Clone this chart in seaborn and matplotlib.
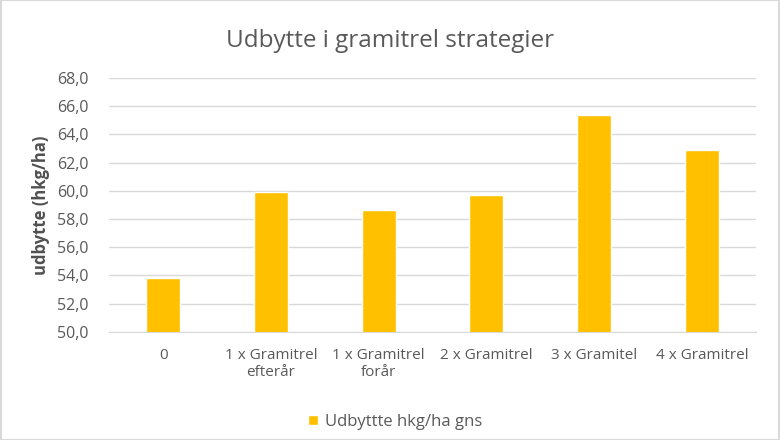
import matplotlib
matplotlib.use("Agg")
import matplotlib.pyplot as plt
import seaborn as sns
import pandas as pd

categories = ["0", "1 x Gramitrel\nefterår", "1 x Gramitrel\nforår", "2 x Gramitrel", "3 x Gramitel", "4 x Gramitrel"]
udbytte = [53.8, 59.9, 58.6, 59.7, 65.4, 62.9]

df = pd.DataFrame({"strategi": categories, "udbytte": udbytte})

sns.set_style("white")
plt.rcParams["font.family"] = ["Open Sans", "DejaVu Sans"]

fig = plt.figure(figsize=(7.8, 4.4), dpi=100)
ax = fig.add_axes([0.140, 0.246, 0.829, 0.577])

sns.barplot(data=df, x="strategi", y="udbytte", color="#FFC000", width=0.315,
            ax=ax, label="Udbyttte hkg/ha gns", zorder=3, saturation=1)

ax.set_ylim(50, 68)
ax.set_yticks([50 + 2 * i for i in range(10)])
ax.set_yticklabels([f"{50 + 2 * i:.1f}".replace(".", ",") for i in range(10)])
ax.yaxis.grid(True, color="#D9D9D9", linewidth=1, zorder=0)
for s in ax.spines.values():
    s.set_visible(False)
ax.spines["bottom"].set_visible(True)
ax.spines["bottom"].set_color("#D9D9D9")
ax.tick_params(axis="y", length=0, labelsize=11.5, labelcolor="#595959", pad=15)
ax.tick_params(axis="x", length=0, labelsize=11, labelcolor="#595959", pad=12)
for t in ax.get_xticklabels():
    t.set_linespacing(1.1)
ax.set_xlabel("")
ax.set_ylabel("udbytte (hkg/ha)", fontsize=12, color="#505050", fontweight="bold", labelpad=5)

fig.suptitle("Udbytte i gramitrel strategier", y=0.935, fontsize=17.5, color="#595959")

leg = ax.legend(loc="upper center", bbox_to_anchor=(0.442, -0.265), frameon=False,
                fontsize=12, handlelength=0.6, handleheight=0.6, handletextpad=0.4)
for t in leg.get_texts():
    t.set_color("#595959")

fig.patches.append(plt.Rectangle((0.001, 0.001), 0.998, 0.998, transform=fig.transFigure,
                                 fill=False, edgecolor="#D9D9D9", linewidth=1.5))

fig.savefig("out.png", dpi=100)
